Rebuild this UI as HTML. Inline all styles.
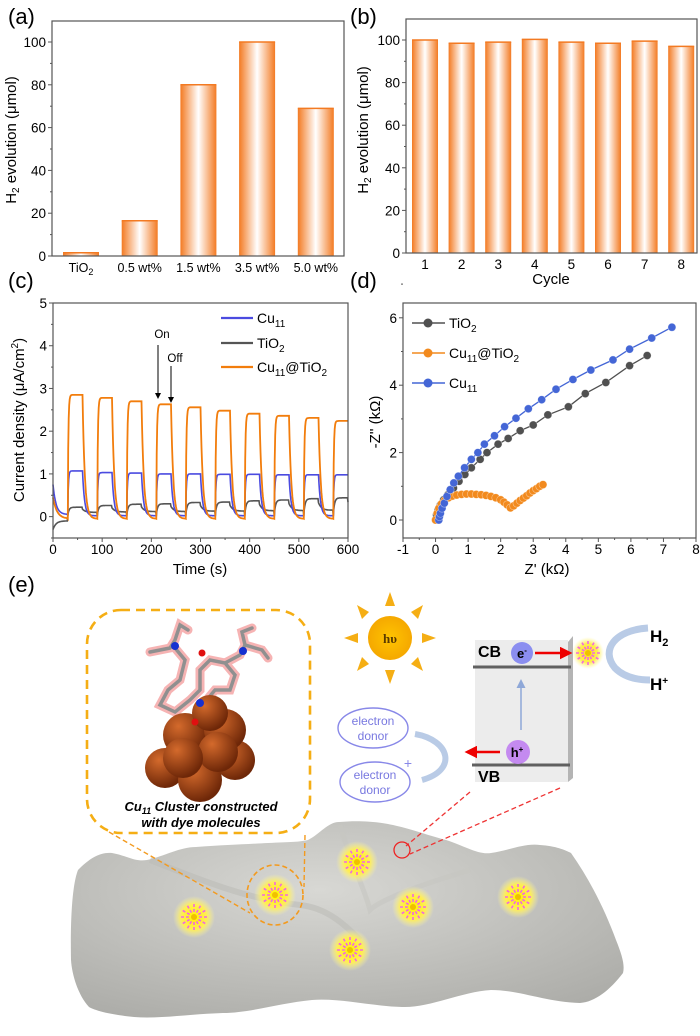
<!DOCTYPE html>
<html><head><meta charset="utf-8">
<style>
html,body{margin:0;padding:0;background:#fff;}
svg{display:block;font-family:"Liberation Sans",Arial,sans-serif;}
</style></head>
<body>
<svg id="fig" width="700" height="1036" viewBox="0 0 700 1036" xmlns="http://www.w3.org/2000/svg">
<defs>
<linearGradient id="barg" x1="0" x2="1" y1="0" y2="0">
<stop offset="0" stop-color="#f37a22"/><stop offset="0.5" stop-color="#ffffff"/><stop offset="1" stop-color="#f37a22"/>
</linearGradient>
<radialGradient id="glow"><stop offset="0" stop-color="#fff200"/><stop offset="0.6" stop-color="#ffee55"/><stop offset="1" stop-color="#fff7a0" stop-opacity="0"/></radialGradient>
<radialGradient id="surf" cx="0.45" cy="0.35" r="0.8"><stop offset="0" stop-color="#d8d8d4"/><stop offset="1" stop-color="#a9a9a5"/></radialGradient>
<radialGradient id="cu" cx="0.35" cy="0.3" r="0.7"><stop offset="0" stop-color="#d46a2c"/><stop offset="1" stop-color="#6e2708"/></radialGradient>
<radialGradient id="sung" cx="0.5" cy="0.5" r="0.5"><stop offset="0" stop-color="#ffc400"/><stop offset="1" stop-color="#f5a800"/></radialGradient>
<marker id="ah" markerWidth="6" markerHeight="6" refX="5" refY="3" orient="auto"><path d="M0,0 L6,3 L0,6 z" fill="#000"/></marker>
<marker id="ahr" markerWidth="5" markerHeight="5" refX="4" refY="2.5" orient="auto"><path d="M0,0 L5,2.5 L0,5 z" fill="#e00"/></marker>
<marker id="ahb" markerWidth="6" markerHeight="6" refX="4" refY="3" orient="auto"><path d="M0,0 L6,3 L0,6 z" fill="#8fa8d8"/></marker>
</defs>

<text x="8" y="24" font-size="22">(a)</text>
<text x="350" y="24" font-size="22">(b)</text>
<text x="8" y="288" font-size="22">(c)</text>
<text x="350" y="288" font-size="22">(d)</text>
<text x="8" y="592" font-size="22">(e)</text>

<g id="pa"></g>
<g id="pb"></g>
<g id="pc"></g>
<g id="pd"></g>

<g>
  <path fill="url(#surf)" d="M71,960 C70,905 74,880 78,870 C90,858 100,852 112,853 C128,856 135,862 147,860 C165,856 180,847 196,847 C225,845 250,844 268,843 C290,842 300,842 308,840 C320,834 328,822 339,822 C360,820 380,822 393,825 C415,830 430,836 446,840 C465,846 478,855 491,853 C510,850 525,843 540,845 C556,846 565,850 571,853 C590,880 605,910 616,940 C622,955 625,965 623,973 C610,990 595,1002 580,1003 C545,1002 520,990 491,990 C460,992 430,1008 402,1007 C370,1006 340,998 312,1000 C280,1003 250,1013 223,1013 C190,1014 160,1019 134,1017 C115,1015 98,1012 89,1007 C78,995 72,975 71,960 Z"/>
  <path d="M150,860 C200,880 250,900 300,905 C330,908 350,930 360,940" stroke="#bdbdb8" stroke-width="6" fill="none" opacity="0.6"/>
  <path d="M340,825 C350,860 365,890 370,910 C380,900 420,885 470,870" stroke="#c6c6c2" stroke-width="5" fill="none" opacity="0.6"/>
  <g id="stars"></g>
  <ellipse cx="275" cy="895" rx="28" ry="30" fill="none" stroke="#f39a1e" stroke-width="1.6" stroke-dasharray="5,3"/>
  <line x1="109" y1="832" x2="250" y2="913" stroke="#f39a1e" stroke-width="1.4" stroke-dasharray="5,3"/>
  <line x1="305" y1="835" x2="304" y2="887" stroke="#f39a1e" stroke-width="1.4" stroke-dasharray="5,3"/>
  <rect x="87" y="610" width="223" height="223" rx="34" fill="#fff" fill-opacity="0.9" stroke="#f5ae14" stroke-width="2.6" stroke-dasharray="9,6"/>
  <g>
    <g stroke="#f4a0a0" stroke-width="9" fill="none" stroke-linecap="round" opacity="0.8">
      <path d="M150,652 L170,648 L175,640 L180,625 L188,630 M175,648 L185,660 L180,680 L168,690 L160,705 L175,712 L190,700 L200,690 L200,670 L210,660 L225,663 L235,675 L230,690 L215,690 L205,702 M225,663 L240,655 L245,645 L262,650 L268,658 M245,645 L242,632 L252,628"/>
    </g>
    <g stroke="#909090" stroke-width="3.5" fill="none" stroke-linecap="round">
      <path d="M150,652 L170,648 L175,640 L180,625 L188,630 M175,648 L185,660 L180,680 L168,690 L160,705 L175,712 L190,700 L200,690 L200,670 L210,660 L225,663 L235,675 L230,690 L215,690 L205,702 M225,663 L240,655 L245,645 L262,650 L268,658 M245,645 L242,632 L252,628"/>
    </g>
    <circle cx="175" cy="646" r="4" fill="#1530d0"/><circle cx="243" cy="651" r="4" fill="#1530d0"/><circle cx="202" cy="653" r="3.5" fill="#e01010"/>
    <circle cx="165" cy="768" r="20" fill="url(#cu)"/><circle cx="235" cy="760" r="20" fill="url(#cu)"/>
    <circle cx="185" cy="735" r="22" fill="url(#cu)"/><circle cx="225" cy="730" r="21" fill="url(#cu)"/>
    <circle cx="200" cy="780" r="22" fill="url(#cu)"/><circle cx="218" cy="752" r="20" fill="url(#cu)"/>
    <circle cx="183" cy="758" r="20" fill="url(#cu)"/><circle cx="210" cy="713" r="18" fill="url(#cu)"/>
    <circle cx="195" cy="722" r="3.5" fill="#e01010"/><circle cx="200" cy="703" r="4" fill="#1530d0"/>
  </g>
  <text x="201" y="811" font-size="13" font-weight="bold" font-style="italic" text-anchor="middle">Cu<tspan font-size="9" dy="3">11</tspan><tspan dy="-3"> Cluster constructed</tspan></text>
  <text x="201" y="827" font-size="13" font-weight="bold" font-style="italic" text-anchor="middle">with dye molecules</text>

  <g fill="#f5ae14">
    <polygon points="390,592 385,606 395,606"/><polygon points="390,684 385,670 395,670"/>
    <polygon points="344,638 358,633 358,643"/><polygon points="436,638 422,633 422,643"/>
    <polygon points="357,605 369,612 362,619"/><polygon points="423,605 411,612 418,619"/>
    <polygon points="357,671 369,664 362,657"/><polygon points="423,671 411,664 418,657"/>
    <circle cx="390" cy="638" r="22" fill="url(#sung)"/>
    <text x="390" y="643" font-size="13" font-family="Liberation Serif,serif" font-weight="bold" fill="#5a3a00" text-anchor="middle">hυ</text>
  </g>

  <g>
    <polygon points="568,642 573,636 573,778 568,782" fill="#b4b4b4"/>
    <rect x="475" y="640" width="93" height="142" fill="#ececec"/>
    <line x1="473" y1="667" x2="571" y2="667" stroke="#606060" stroke-width="3"/>
    <line x1="472" y1="765" x2="570" y2="765" stroke="#606060" stroke-width="3"/>
    <text x="478" y="657" font-size="16" font-weight="bold">CB</text>
    <text x="478" y="782" font-size="16" font-weight="bold">VB</text>
    <line x1="521" y1="730" x2="521" y2="682" stroke="#8fa8d8" stroke-width="1.5" marker-end="url(#ahb)"/>
    <circle cx="522" cy="653" r="11" fill="#8b8ef0"/>
    <text x="522" y="658" font-size="13" font-weight="bold" text-anchor="middle">e<tspan font-size="8" dy="-5">-</tspan></text>
    <line x1="535" y1="653" x2="570" y2="653" stroke="#e00" stroke-width="2.5" marker-end="url(#ahr)"/>
    <circle cx="518" cy="752" r="12" fill="#c48af0"/>
    <text x="517" y="757" font-size="13" font-weight="bold" text-anchor="middle">h<tspan font-size="8" dy="-5">+</tspan></text>
    <line x1="500" y1="752" x2="467" y2="752" stroke="#e00" stroke-width="2.5" marker-end="url(#ahr)"/>
  </g>
  <path d="M648,628 C615,630 600,650 615,668 C625,678 640,680 650,680" stroke="#b9cbe6" stroke-width="7" fill="none"/>
  <text x="650" y="642" font-size="17" font-weight="bold">H<tspan font-size="11" dy="4">2</tspan></text>
  <text x="650" y="690" font-size="17" font-weight="bold">H<tspan font-size="10" dy="-6">+</tspan></text>
  <ellipse cx="373" cy="728" rx="35" ry="20" fill="#fff" stroke="#8888e8" stroke-width="1.4"/>
  <text x="373" y="725" font-size="12" fill="#7878e0" text-anchor="middle">electron</text>
  <text x="373" y="740" font-size="12" fill="#7878e0" text-anchor="middle">donor</text>
  <ellipse cx="375" cy="782" rx="35" ry="20" fill="#fff" stroke="#8888e8" stroke-width="1.4"/>
  <text x="375" y="779" font-size="12" fill="#7878e0" text-anchor="middle">electron</text>
  <text x="375" y="794" font-size="12" fill="#7878e0" text-anchor="middle">donor</text>
  <text x="408" y="768" font-size="14" fill="#8888e8" text-anchor="middle">+</text>
  <path d="M415,734 C450,740 458,770 422,780" stroke="#b9cbe6" stroke-width="6" fill="none"/>
  <line x1="470" y1="792" x2="406" y2="846" stroke="#e33" stroke-width="1.3" stroke-dasharray="5,3"/>
  <line x1="560" y1="788" x2="410" y2="854" stroke="#e33" stroke-width="1.3" stroke-dasharray="5,3"/>
  <circle cx="402" cy="850" r="8" fill="none" stroke="#e22" stroke-width="1.3"/>
</g>

<script>
const NS="http://www.w3.org/2000/svg";
function mk(parent,tag,attrs,txt){const e=document.createElementNS(NS,tag);for(const k in attrs)e.setAttribute(k,attrs[k]);if(txt!==undefined)e.textContent=txt;parent.appendChild(e);return e;}
/* parts: [text, fontSize or null, dy] */
function rich(parent,attrs,parts){const t=mk(parent,"text",attrs);parts.forEach(p=>{const s=mk(t,"tspan",{},p[0]);if(p[1])s.setAttribute("font-size",p[1]);if(p[2])s.setAttribute("dy",p[2]);});return t;}

/* ---------- Panel (a) data ---------- */
const aCategories=["TiO2","0.5 wt%","1.5 wt%","3.5 wt%","5.0 wt%"];
const aValues=[1.5,16.5,80,100,69];
const aTicks=[0,20,40,60,80,100];
/* ---------- Panel (b) data ---------- */
const bCycles=["1","2","3","4","5","6","7","8"];
const bValues=[100,98.5,99,100.3,99,98.5,99.5,97];
const bTicks=[0,20,40,60,80,100];
/* ---------- Panel (c) data ---------- */
const cOnTimes=[30,90,150,210,270,330,390,450,510,570];
const cOrangePeaks=[2.85,2.78,2.7,2.63,2.56,2.48,2.41,2.36,2.31,2.24];
const cBluePeaks=[1.07,1.03,1.02,1.0,1.0,0.99,0.99,0.98,0.98,0.98];
const cGrayPeaks=[0.2,0.24,0.27,0.28,0.31,0.32,0.35,0.37,0.4,0.42];
const cXTicks=[0,100,200,300,400,500,600];
const cYTicks=[0,1,2,3,4,5];
/* ---------- Panel (d) data ---------- */
const dTiO2X=[0,0.03,0.08,0.15,0.25,0.38,0.55,0.72,0.9,1.1,1.37,1.58,1.92,2.23,2.6,3.0,3.45,4.08,4.6,5.23,5.96,6.5];
const dTiO2Y=[0,0.15,0.3,0.45,0.6,0.75,0.95,1.15,1.35,1.55,1.8,2.0,2.25,2.42,2.65,2.82,3.12,3.36,3.75,4.08,4.58,4.88];
const dCuX=[0.1,0.12,0.15,0.2,0.27,0.35,0.45,0.56,0.7,0.89,1.1,1.3,1.5,1.81,2.12,2.47,2.85,3.26,3.7,4.22,4.77,5.45,5.96,6.64,7.26];
const dCuY=[0,0.1,0.2,0.35,0.5,0.7,0.9,1.1,1.3,1.55,1.8,2.0,2.25,2.5,2.77,3.02,3.3,3.57,3.88,4.17,4.45,4.75,5.07,5.4,5.72];
const dCuTiX=[0,0.05,0.1,0.18,0.28,0.4,0.52,0.65,0.8,0.95,1.1,1.25,1.4,1.55,1.7,1.85,2.0,2.1,2.2,2.3,2.4,2.5,2.6,2.7,2.8,2.9,3.0,3.1,3.2,3.3];
const dCuTiY=[0,0.2,0.35,0.48,0.58,0.66,0.71,0.74,0.76,0.77,0.77,0.76,0.75,0.73,0.7,0.66,0.6,0.53,0.45,0.36,0.42,0.5,0.58,0.65,0.72,0.8,0.87,0.93,1.0,1.05];
const dXTicks=[-1,0,1,2,3,4,5,6,7,8];
const dYTicks=[0,2,4,6];

function frame(g,x0,y0,x1,y1){mk(g,"rect",{x:x0,y:y0,width:x1-x0,height:y1-y0,fill:"none",stroke:"#555","stroke-width":1.2});}
const H2TITLE=[["H",null,0],["2",10,3],[" evolution (μmol)",null,-3]];

/* ---- panel a ---- */
(function(){
  const g=document.getElementById("pa");
  const L=52,R=344,T=21,B=256;
  const y=v=>B-(v/100)*(B-42);
  const xc=i=>81+i*58.7;
  aValues.forEach((v,i)=>{
    const r=mk(g,"rect",{x:xc(i)-18,y:y(v),width:36,height:B-y(v),fill:"url(#barg)"});
    
    
    mk(g,"line",{x1:xc(i)-18,x2:xc(i)+18,y1:y(v),y2:y(v),stroke:"#f37a22","stroke-width":1.5});
    let t;
    if(aCategories[i]==="TiO2"){t=rich(g,{x:xc(i),y:B+16,"font-size":12.5,"text-anchor":"middle"},[["TiO",null,0],["2",9,3]]);}
    else t=mk(g,"text",{x:xc(i),y:B+16,"font-size":12.5,"text-anchor":"middle"},aCategories[i]);
    
    
  });
  frame(g,L,T,R,B);
  aTicks.forEach(v=>{mk(g,"line",{x1:L-4,x2:L,y1:y(v),y2:y(v),stroke:"#555"});
    if(v<100)mk(g,"line",{x1:L-2,x2:L,y1:y(v+10),y2:y(v+10),stroke:"#555"});
    const t=mk(g,"text",{x:L-6,y:y(v)+5,"font-size":13.5,"text-anchor":"end"},String(v));
    
    });
  const yt=rich(g,{x:0,y:0,"font-size":15,"text-anchor":"middle",transform:"translate(16,140) rotate(-90)"},H2TITLE);
  
  
})();

/* ---- panel b ---- */
(function(){
  const g=document.getElementById("pb");
  const L=406,R=697,T=19,B=253;
  const y=v=>B-(v/100)*(B-40);
  const xc=i=>425+i*36.6;
  bValues.forEach((v,i)=>{
    const r=mk(g,"rect",{x:xc(i)-13,y:y(v),width:26,height:B-y(v),fill:"url(#barg)"});
    
    
    mk(g,"line",{x1:xc(i)-13,x2:xc(i)+13,y1:y(v),y2:y(v),stroke:"#f37a22","stroke-width":1.5});
    const t=mk(g,"text",{x:xc(i),y:B+16,"font-size":13.5,"text-anchor":"middle"},bCycles[i]);
    
    
  });
  frame(g,L,T,R,B);
  bTicks.forEach(v=>{mk(g,"line",{x1:L-4,x2:L,y1:y(v),y2:y(v),stroke:"#555"});
    if(v<100)mk(g,"line",{x1:L-2,x2:L,y1:y(v+10),y2:y(v+10),stroke:"#555"});
    const t=mk(g,"text",{x:L-6,y:y(v)+5,"font-size":13.5,"text-anchor":"end"},String(v));
    
    });
  const xt=mk(g,"text",{x:551,y:284,"font-size":15,"text-anchor":"middle"},"Cycle");
  
  
  const yt=rich(g,{x:0,y:0,"font-size":15,"text-anchor":"middle",transform:"translate(368,130) rotate(-90)"},H2TITLE);
  
  
})();

/* ---- panel c ---- */
(function(){
  const g=document.getElementById("pc");
  const L=53,R=348,T=303,B=538;
  const x=t=>L+t/600*(R-L);
  const y=v=>T+(5-v)*((B-T)/5.5);
  function series(peaks,kind){
    const pts=[];
    for(let t=0;t<=600;t+=1){
      let k=-1;cOnTimes.forEach((o,i)=>{if(t>=o)k=i;});
      let v;
      if(k<0){v=kind==="o"?0.5*Math.exp(-t/8)-0.05:kind==="b"?0.7*Math.exp(-t/6)+0.05:-0.3+0.2*(1-Math.exp(-t/6));}
      else{
        const on=cOnTimes[k],p=peaks[k],dt=t-on;
        if(dt<30){
          if(kind==="g")v=p*(1-Math.exp(-dt/2.5))+0.02;
          else v=p*(1-Math.exp(-dt/1.2))+ (kind==="o"?-0.05:0.02)*Math.exp(-dt/1.2);
        }else{
          const d=dt-30;
          if(kind==="o")v=(p+0.05)*Math.exp(-d/4.5)-0.05;
          else if(kind==="b")v=(p-0.02)*Math.exp(-d/4)+0.02;
          else v=(p-0.05)*Math.exp(-d/6)*0.5+0.05+p*0.25;
        }
      }
      pts.push(x(t).toFixed(1)+","+y(v).toFixed(1));
    }
    return pts.join(" ");
  }
  const gl=mk(g,"polyline",{points:series(cGrayPeaks,"g"),fill:"none",stroke:"#555","stroke-width":1.6});
  
  
  const bl=mk(g,"polyline",{points:series(cBluePeaks,"b"),fill:"none",stroke:"#4b4be0","stroke-width":1.6});
  
  
  const ol=mk(g,"polyline",{points:series(cOrangePeaks,"o"),fill:"none",stroke:"#f27d0c","stroke-width":1.8});
  
  
  frame(g,L,T,R,B);
  cXTicks.forEach(v=>{mk(g,"line",{x1:x(v),x2:x(v),y1:B,y2:B+4,stroke:"#555"});
    if(v<600)mk(g,"line",{x1:x(v+50),x2:x(v+50),y1:B,y2:B+2,stroke:"#555"});
    const t=mk(g,"text",{x:x(v),y:B+16,"font-size":13.5,"text-anchor":"middle"},String(v));
    
    });
  cYTicks.forEach(v=>{mk(g,"line",{x1:L-4,x2:L,y1:y(v),y2:y(v),stroke:"#555"});
    mk(g,"line",{x1:L-2,x2:L,y1:y(v-0.5),y2:y(v-0.5),stroke:"#555"});
    const t=mk(g,"text",{x:L-6,y:y(v)+5,"font-size":13.5,"text-anchor":"end"},String(v));
    
    });
  const xt=mk(g,"text",{x:200,y:574,"font-size":15,"text-anchor":"middle"},"Time (s)");
  
  
  const yt=rich(g,{x:0,y:0,"font-size":15,"text-anchor":"middle",transform:"translate(24,420) rotate(-90)"},[["Current density (μA/cm",null,0],["2",10,-6],[")",null,6]]);
  
  
  const leg=[["#4b4be0",[["Cu",null,0],["11",10,4]],318],["#555",[["TiO",null,0],["2",10,4]],343],["#f27d0c",[["Cu",null,0],["11",10,4],["@TiO",null,-4],["2",10,4]],367]];
  leg.forEach(l=>{mk(g,"line",{x1:221,x2:253,y1:l[2],y2:l[2],stroke:l[0],"stroke-width":2.2});
    const t=rich(g,{x:257,y:l[2]+5,"font-size":14},l[1]);
    
    });
  mk(g,"text",{x:162,y:338,"font-size":11.5,"text-anchor":"middle"},"On");
  mk(g,"text",{x:175,y:362,"font-size":11.5,"text-anchor":"middle"},"Off");
  mk(g,"line",{x1:158,x2:158,y1:345,y2:398,stroke:"#000","marker-end":"url(#ah)"});
  mk(g,"line",{x1:171,x2:171,y1:366,y2:402,stroke:"#000","marker-end":"url(#ah)"});
})();

/* ---- panel d ---- */
(function(){
  const g=document.getElementById("pd");
  const L=403,R=696,T=303,B=538;
  const x=v=>L+(v+1)*(R-L)/9;
  const y=v=>520-v*33.7;
  function ser(xs,ys,col,name){
    const pts=xs.map((v,i)=>x(v).toFixed(1)+","+y(ys[i]).toFixed(1)).join(" ");
    const p=mk(g,"polyline",{points:pts,fill:"none",stroke:col,"stroke-width":1.3});
    
    
    xs.forEach((v,i)=>{const c=mk(g,"circle",{cx:x(v),cy:y(ys[i]),r:4,fill:col,stroke:"#fff","stroke-width":0.6,"stroke-opacity":0.5});
      
      });
  }
  ser(dTiO2X,dTiO2Y,"#505050","tio2");
  ser(dCuTiX,dCuTiY,"#f28a1e","cu11-tio2");
  ser(dCuX,dCuY,"#4466d6","cu11");
  frame(g,L,T,R,B);
  dXTicks.forEach(v=>{mk(g,"line",{x1:x(v),x2:x(v),y1:B,y2:B+4,stroke:"#555"});
    if(v<8)mk(g,"line",{x1:x(v+0.5),x2:x(v+0.5),y1:B,y2:B+2,stroke:"#555"});
    const t=mk(g,"text",{x:x(v),y:B+16,"font-size":13.5,"text-anchor":"middle"},String(v));
    
    });
  dYTicks.forEach(v=>{mk(g,"line",{x1:L-4,x2:L,y1:y(v),y2:y(v),stroke:"#555"});
    mk(g,"line",{x1:L-2,x2:L,y1:y(v+1),y2:y(v+1),stroke:"#555"});
    const t=mk(g,"text",{x:L-6,y:y(v)+5,"font-size":13.5,"text-anchor":"end"},String(v));
    
    });
  const xt=mk(g,"text",{x:547,y:574,"font-size":15,"text-anchor":"middle"},"Z' (kΩ)");
  
  
  const yt=mk(g,"text",{x:0,y:0,"font-size":15,"text-anchor":"middle",transform:"translate(380,422) rotate(-90)"},"-Z'' (kΩ)");
  
  
  const leg=[["#505050",[["TiO",null,0],["2",10,4]],323],["#f28a1e",[["Cu",null,0],["11",10,4],["@TiO",null,-4],["2",10,4]],353],["#4466d6",[["Cu",null,0],["11",10,4]],383]];
  leg.forEach(l=>{mk(g,"line",{x1:412,x2:445,y1:l[2],y2:l[2],stroke:l[0],"stroke-width":1.5});
    mk(g,"circle",{cx:428,cy:l[2],r:4.5,fill:l[0]});
    const t=rich(g,{x:449,y:l[2]+5,"font-size":14},l[1]);
    
    });
})();

/* ---- stars in panel e ---- */
(function(){
  const g=document.getElementById("stars");
  const sx=[194,275,357,413,518,350,588],sy=[917,895,862,907,897,950,653];
  sx.forEach((cx,i)=>{
    const s=mk(g,"g",{});
    
    
    mk(s,"circle",{cx:cx,cy:sy[i],r:i===6?16:21,fill:"url(#glow)"});
    for(let a=0;a<12;a++){const an=a*Math.PI/6;const r1=i===6?4:5,r2=i===6?12:15;
      mk(s,"line",{x1:cx+r1*Math.cos(an),y1:sy[i]+r1*Math.sin(an),x2:cx+r2*Math.cos(an),y2:sy[i]+r2*Math.sin(an),stroke:"#f06adf","stroke-width":1.6,"stroke-dasharray":"3,2"});}
    mk(s,"circle",{cx:cx,cy:sy[i],r:3,fill:"#f0c000"});
  });
})();
</script>
</svg>
</body></html>
